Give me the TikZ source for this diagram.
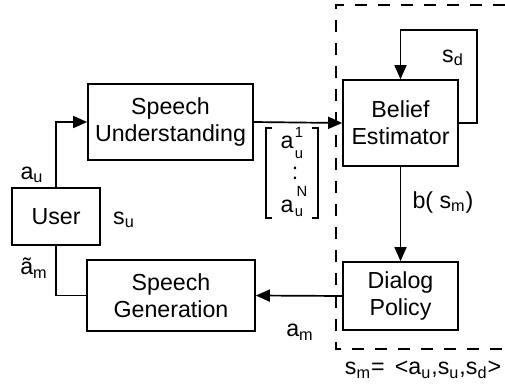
\documentclass[tikz,border=0pt]{standalone}
\usepackage{fontspec}
\setmainfont{Liberation Sans}
\usetikzlibrary{arrows.meta}
\tikzset{
  boxnode/.style={draw, line width=0.85pt, align=center, inner sep=0pt, font=\fontsize{11.6}{13.5}\selectfont},
  lbl/.style={inner sep=0pt, font=\fontsize{11.6}{13.5}\selectfont},
  sml/.style={inner sep=0pt, font=\fontsize{7.4}{8}\selectfont},
  conn/.style={line width=0.85pt},
  arr/.style={conn, -{Triangle[length=7pt,width=6pt]}},
  frame/.style={line width=0.7pt, dash pattern=on 6pt off 5.5pt},
  brk/.style={line width=0.6pt}
}
\begin{document}
\begin{tikzpicture}[x=0.5pt,y=-0.5pt]
\useasboundingbox (0,0) rectangle (505,392);
% dashed frame
\draw[frame] (505,5) -- (336,5) -- (336,349) -- (505,349);
% boxes
\node[boxnode, minimum width=44pt, minimum height=28.5pt] (user) at (56,216.5) {User};
\node[boxnode, minimum width=82.5pt, minimum height=38pt] (su) at (170.5,122) {Speech\\Understanding};
\node[boxnode, minimum width=84pt, minimum height=35.5pt] (sg) at (171,295.5) {Speech\\Generation};
\node[boxnode, minimum width=57.5pt, minimum height=43pt] (be) at (400.5,123) {Belief\\Estimator};
\node[boxnode, minimum width=57.5pt, minimum height=34pt] (dp) at (400.5,296) {Dialog\\Policy};
% connectors
\draw[arr] (user.north) |- (su.west);
\draw[conn] (user.south) |- (sg.west);
\draw[arr] (su.east) -- (be.west);
\draw[arr] (be.south) -- (dp.north);
\draw[arr] (dp.west) -- (sg.east);
\coordinate (loopc) at (477,30);
\draw[arr] (be.east) -| (loopc) -| (be.north);
% labels
\node[lbl] (lau) at (32,175) {a\textsubscript{u}};
\node[lbl] (lam) at (34,268) {ã\textsubscript{m}};
\node[lbl] (lsu) at (124,220) {s\textsubscript{u}};
\node[lbl] (lamm) at (300,332) {a\textsubscript{m}};
\node[lbl] (lb) at (443,202) {b( s\textsubscript{m})};
\node[lbl] (lsd) at (453,58) {s\textsubscript{d}};
\node[lbl] (lsm) at (423,370) {s\textsubscript{m}= \,<a\textsubscript{u},s\textsubscript{u},s\textsubscript{d}>};
% vector with brackets
\draw[brk] (272,128) -- (266,128) -- (266,218) -- (272,218);
\draw[brk] (312,128) -- (318,128) -- (318,218) -- (312,218);
\node[lbl] (va1) at (287,142) {a};
\node[sml] (vs1) at (299,132) {1};
\node[sml] (vu1) at (299,155) {u};
\node[lbl] (vdots) at (295,173) {:};
\node[sml] (vsn) at (302,191) {N};
\node[lbl] (va2) at (287,206) {a};
\node[sml] (vu2) at (299,213) {u};
\end{tikzpicture}
\end{document}
